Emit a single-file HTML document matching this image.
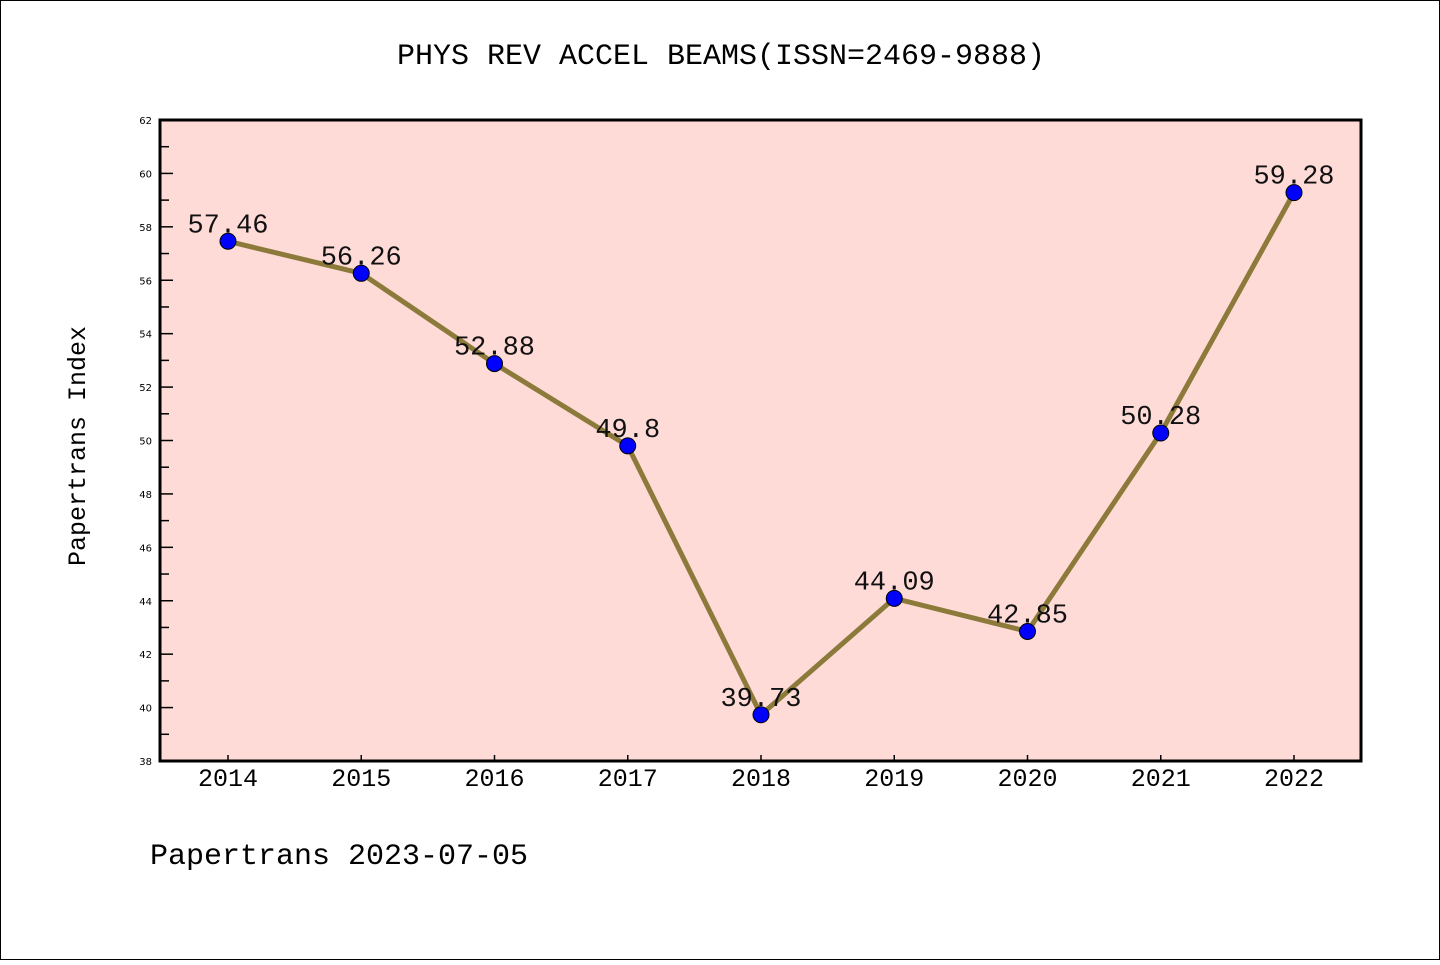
<!DOCTYPE html>
<html><head><meta charset="utf-8"><style>
body{margin:0;background:#fff}
svg text{font-family:"WenQuanYi Zen Hei Mono","Liberation Mono",monospace}
svg text.tk{font-family:"DejaVu Sans",sans-serif}
</style></head><body>
<svg id="chart" width="1440" height="960" xmlns="http://www.w3.org/2000/svg">
<rect x="0.5" y="0.5" width="1439" height="959" fill="#fff" stroke="#000"/>
<text x="721" y="64" font-size="30" text-anchor="middle">PHYS REV ACCEL BEAMS(ISSN=2469-9888)</text>
<rect x="160" y="120" width="1201" height="641" fill="#ffdbd8"/>
<g id="axes"></g>
<g id="series"></g>
<rect x="160" y="120" width="1201" height="641" fill="none" stroke="#000" stroke-width="3"/>
<text transform="translate(85,446) rotate(-90)" font-size="25" text-anchor="middle">Papertrans Index</text>
<text x="150" y="864" font-size="30">Papertrans 2023-07-05</text>
</svg>
<script>
const years=["2014","2015","2016","2017","2018","2019","2020","2021","2022"];
const values=[57.46,56.26,52.88,49.8,39.73,44.09,42.85,50.28,59.28];
const labels=["57.46","56.26","52.88","49.8","39.73","44.09","42.85","50.28","59.28"];
const yTicks=[38,40,42,44,46,48,50,52,54,56,58,60,62];
const NS="http://www.w3.org/2000/svg";
const x0=228,x1=1294,yb=761,yt=120,ymin=38,ymax=62;
const xs=i=>x0+(x1-x0)*i/(years.length-1);
const ys=v=>yb-(v-ymin)/(ymax-ymin)*(yb-yt);
function mk(t,a,p){const e=document.createElementNS(NS,t);for(const k in a)e.setAttribute(k,a[k]);p.appendChild(e);return e;}
const ax=document.getElementById('axes'),se=document.getElementById('series');
yTicks.forEach(v=>{
 const y=ys(v);
 const t=mk('line',{x1:160,x2:173,y1:y,y2:y,stroke:'#000','stroke-width':1.5},ax);
 
 
 const l=mk('text',{x:152,y:y+4,'font-size':10,'text-anchor':'end','class':'tk'},ax);
 l.textContent=v;
 
 
 if(v<ymax){const m=ys(v+1);
  const mt=mk('line',{x1:160,x2:169,y1:m,y2:m,stroke:'#000','stroke-width':1.5},ax);
  
  }
});
years.forEach((yr,i)=>{
 const x=xs(i);
 const t=mk('line',{x1:x,x2:x,y1:755,y2:761,stroke:'#000','stroke-width':1.5},ax);
 
 
 const l=mk('text',{x:x,y:786,'font-size':25,'text-anchor':'middle'},ax);
 l.textContent=yr;
 
 
});
const pl=mk('polyline',{points:values.map((v,i)=>xs(i)+','+ys(v)).join(' '),fill:'none',stroke:'#8c7a3a','stroke-width':5},se);


values.forEach((v,i)=>{
 const l=mk('text',{x:xs(i),y:ys(v)-9,'font-size':27,'text-anchor':'middle',fill:'#111'},se);
 l.textContent=labels[i];
 
 
});
values.forEach((v,i)=>{
 const c=mk('circle',{cx:xs(i),cy:ys(v),r:8,fill:'#0000ff',stroke:'#000','stroke-width':1},se);
 
 
});
</script>
</body></html>
